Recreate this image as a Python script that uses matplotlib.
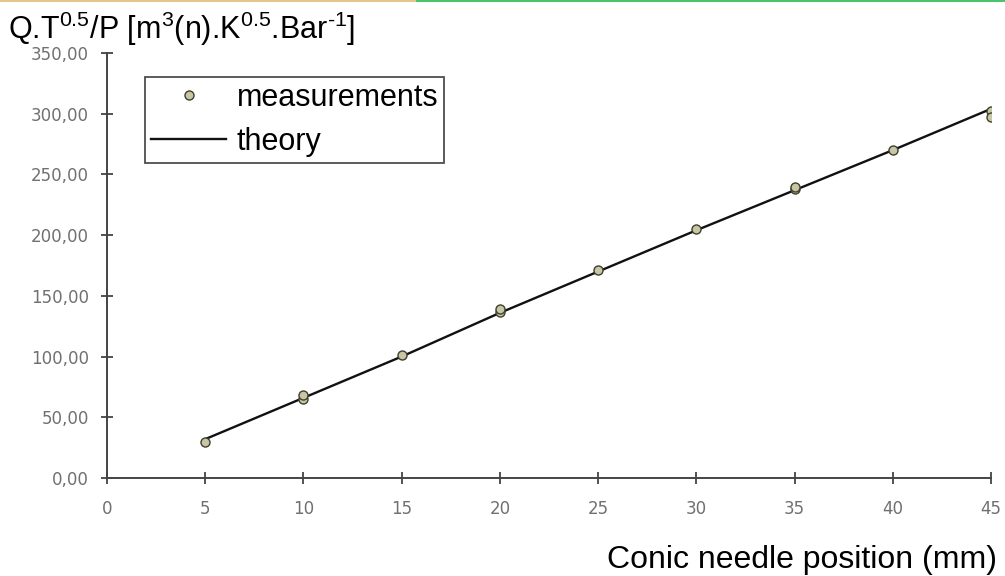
import matplotlib
matplotlib.use("Agg")
import matplotlib.pyplot as plt
from matplotlib.patches import Rectangle
from matplotlib.ticker import FuncFormatter

plt.rcParams["mathtext.fontset"] = "custom"
plt.rcParams["mathtext.rm"] = "Liberation Sans"
plt.rcParams["mathtext.it"] = "Liberation Sans"
plt.rcParams["mathtext.default"] = "regular"

# valeurs
pos_mes = [5, 10, 10, 15, 20, 20, 25, 30, 35, 35, 40, 45, 45]
val_mes = [30, 65, 68, 101, 137, 139, 171, 205, 238, 240, 270, 302, 297]

pos_theo = [5, 10, 15, 20, 25, 30, 35, 40, 45]
val_theo = [32, 66, 100, 136, 170, 204, 237, 270, 304]

x_ticks = [0, 5, 10, 15, 20, 25, 30, 35, 40, 45]
y_ticks = [0, 50, 100, 150, 200, 250, 300, 350]

W, H = 1005, 576
fig = plt.figure(figsize=(W / 100, H / 100), dpi=100)
ax = fig.add_axes([107 / W, 1 - 478 / H, (991 - 107) / W, (478 - 53) / H])

# bande de couleur en haut
fig.patches.append(Rectangle((0, 1 - 2 / H), 416 / W, 2 / H, transform=fig.transFigure,
                             color="#e6c68e", lw=0))
fig.patches.append(Rectangle((416 / W, 1 - 2 / H), 1 - 416 / W, 2 / H, transform=fig.transFigure,
                             color="#4cc46e", lw=0))

ax.plot(pos_theo, val_theo, color="#111111", lw=1.7, label="theory", zorder=2)
ax.plot(pos_mes, val_mes, ls="none", marker="o", ms=6.5, mfc="#c9c7a3",
        mec="#3e3e30", mew=1.0, label="measurements", zorder=3)

ax.set_xlim(0, 45)
ax.set_ylim(0, 350)
ax.set_xticks(x_ticks)
ax.set_yticks(y_ticks)
ax.yaxis.set_major_formatter(FuncFormatter(lambda v, p: f"{v:.2f}".replace(".", ",")))

for s in ["top", "right"]:
    ax.spines[s].set_visible(False)
for s in ["left", "bottom"]:
    ax.spines[s].set_color("#444444")
    ax.spines[s].set_linewidth(1.4)
ax.tick_params(direction="inout", length=8, width=1.3, color="#444444",
               labelcolor="#707070", labelsize=12)
ax.tick_params(axis="x", pad=12)
ax.tick_params(axis="y", pad=9)

# légende
h, l = ax.get_legend_handles_labels()
leg = ax.legend(h[::-1], l[::-1], loc="upper left",
                bbox_to_anchor=(145 / W, 1 - 77 / H), bbox_transform=fig.transFigure,
                frameon=True, fancybox=False, edgecolor="#222222",
                borderpad=0.2, handlelength=2.45, handletextpad=0.35,
                labelspacing=0.45, borderaxespad=0,
                prop={"family": "Liberation Sans", "size": 22})
leg.get_frame().set_linewidth(1.3)

fig.text(8 / W, 1 - 39 / H,
         r"Q.T$^{0.5}$/P [m$^{3}$(n).K$^{0.5}$.Bar$^{\text{-1}}$]",
         fontsize=22, family="Liberation Sans", va="baseline", ha="left")
fig.text(997 / W, 1 - 568 / H, "Conic needle position (mm)",
         fontsize=23, family="Liberation Sans", va="baseline", ha="right")

fig.savefig("out.png", dpi=100)
